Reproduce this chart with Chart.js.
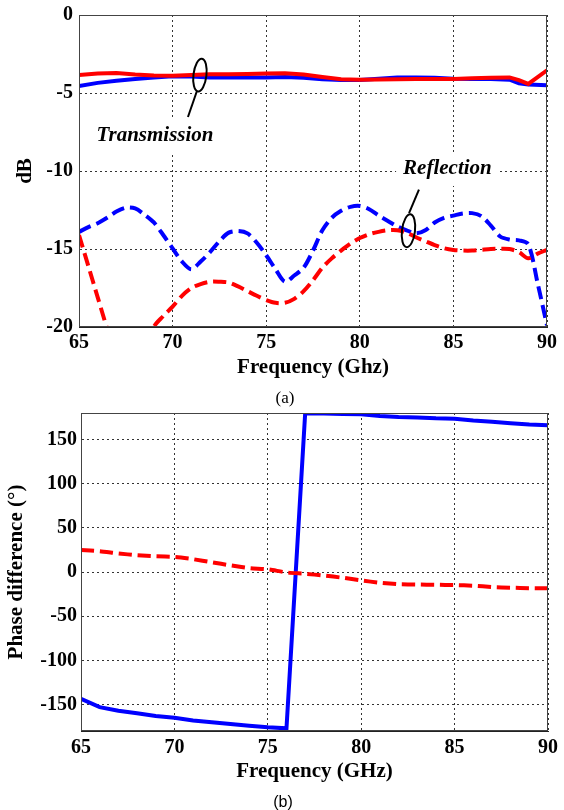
<!DOCTYPE html>
<html lang="en">
<head>
<meta charset="UTF-8">
<title>Transmission, reflection and phase difference</title>
<script src="https://cdn.jsdelivr.net/npm/chart.js"></script>
<style>
  body { margin: 0; background: #fff; }
  .wrap { position: relative; width: 564px; height: 810px; }
  #magChart { position: absolute; left: 0; top: 0; }
  #phaseChart { position: absolute; left: 0; top: 410px; }
</style>
</head>
<body>
<div class="wrap">
  <canvas id="magChart" width="564" height="410"></canvas>
  <canvas id="phaseChart" width="564" height="400"></canvas>
</div>
<script>
// ---- (a) magnitude, dB ----
const transFreq = [65,66,67,68,69,70,71,72,73,74,75,76,77,78,79,80,81,82,83,84,85,86,87,88,88.5,89,90];
const transRed  = [-3.85,-3.75,-3.72,-3.82,-3.88,-3.9,-3.85,-3.8,-3.8,-3.78,-3.75,-3.74,-3.82,-3.98,-4.12,-4.15,-4.14,-4.12,-4.1,-4.1,-4.1,-4.06,-4.02,-4.0,-4.18,-4.42,-3.55];
const transBlue = [-4.55,-4.35,-4.22,-4.1,-4.0,-3.92,-3.95,-4.0,-4.0,-4.0,-4.0,-3.98,-4.02,-4.12,-4.17,-4.17,-4.08,-4.0,-4.0,-4.02,-4.08,-4.1,-4.1,-4.15,-4.38,-4.45,-4.5];

const reflFreq = [65,65.5,66,66.5,67,67.5,68,68.5,69,69.5,70,70.5,71,71.5,72,72.5,73,73.5,74,74.5,75,75.5,76,76.5,77,77.5,
                  78,78.5,79,79.5,80,80.5,81,81.5,82,82.5,83,83.5,84,84.5,85,85.5,86,86.5,87,87.5,88,88.5,89,89.5,90];
const reflBlue = [-13.9,-13.6,-13.35,-13.0,-12.6,-12.35,-12.4,-12.8,-13.3,-14.1,-14.96,-15.8,-16.3,-15.8,-15.2,-14.5,-13.95,-13.85,-14.0,-14.6,-15.4,-16.3,-17.1,-16.7,-16.2,-15.1,
                  -13.8,-13.0,-12.55,-12.3,-12.24,-12.45,-12.85,-13.2,-13.55,-13.8,-14.0,-13.8,-13.3,-13.0,-12.86,-12.72,-12.7,-12.9,-13.5,-14.2,-14.4,-14.45,-14.7,-17.2,-19.9];
const reflRed  = [-14.1,-16.1,-18.1,-20.1,-22,-23,-23,-22,-20.0,-19.3,-18.7,-18.0,-17.5,-17.25,-17.1,-17.1,-17.15,-17.4,-17.7,-18.0,-18.27,-18.45,-18.45,-18.2,-17.7,-17.0,
                  -16.2,-15.6,-15.1,-14.65,-14.3,-14.05,-13.9,-13.8,-13.8,-13.95,-14.25,-14.5,-14.75,-14.95,-15.06,-15.1,-15.1,-15.05,-15.0,-14.98,-15.0,-15.2,-15.6,-15.3,-15.05];

const freqTicks = [65,70,75,80,85,90];
const dbTicks = [-20,-15,-10,-5,0];

// ---- (b) phase difference, degrees ----
const phaseFreqBlue = [65,66,67,68,69,70,71,72,73,74,75,76,77,78,79,80,81,82,83,84,85,86,87,88,89,90];
const phaseBlue     = [-143.5,-153,-157,-160,-163,-165,-168,-170,-172,-174,-175.8,-177,179.5,179.3,179,178.5,176.5,175.5,175,174,173.5,171.5,170,168.5,167,166];
const phaseFreqRed  = [65,66,67,68,69,70,71,72,73,74,75,76,77,78,79,80,81,82,83,84,85,86,87,88,89,90];
const phaseRed      = [25,23.5,21,19,17.8,17,14.5,11,7.5,4.5,3,-0.5,-2,-4,-6.5,-9.5,-12.2,-13.8,-14.2,-14.5,-14.8,-15.5,-17,-17.8,-18.3,-18.5];
const phaseTicks = [-150,-100,-50,0,50,100,150];

// callouts on (a), placed in data units
const callouts = [
    { text: 'Transmission', at: [69.06, -7.7], ring: [71.46, -3.85], lead: [[71.3, -4.87], [70.82, -6.54]] },
    { text: 'Reflection',   at: [84.68, -9.87], ring: [82.6, -13.83], lead: [[82.63, -12.7], [83.16, -11.2]] }
];

const serif = '"Liberation Serif", "Times New Roman", serif';
const tickFont = { family: serif, size: 20, weight: 'bold' };
const titleFont = { family: serif, size: 21, weight: 'bold' };

function pts(xs, ys) {
    return xs.map((v, i) => ({ x: v, y: ys[i] }));
}

function useTicks(list) {
    return scale => { scale.ticks = list.map(v => ({ value: v })); };
}

// box around the plot area
const framePlugin = {
    id: 'frame',
    afterDatasetsDraw(chart) {
        const { ctx, chartArea: a } = chart;
        ctx.save();
        ctx.strokeStyle = '#444';
        ctx.lineWidth = 1;
        ctx.strokeRect(a.left + 0.5, a.top + 0.5, a.right - a.left - 1, a.bottom - a.top - 1);
        ctx.restore();
    }
};

const calloutPlugin = {
    id: 'callouts',
    afterDatasetsDraw(chart) {
        const { ctx, scales: { x, y } } = chart;
        ctx.save();
        ctx.font = 'italic bold 21px ' + serif;
        ctx.textAlign = 'center';
        ctx.textBaseline = 'middle';
        callouts.forEach(c => {
            const tx = x.getPixelForValue(c.at[0]);
            const ty = y.getPixelForValue(c.at[1]);
            const w = ctx.measureText(c.text).width + 14;
            ctx.fillStyle = '#fff';
            ctx.fillRect(tx - w / 2, ty - 17, w, 34);
            ctx.fillStyle = '#000';
            ctx.fillText(c.text, tx, ty);

            ctx.strokeStyle = '#000';
            ctx.lineWidth = 2;
            ctx.beginPath();
            ctx.ellipse(x.getPixelForValue(c.ring[0]), y.getPixelForValue(c.ring[1]), 6.5, 16.5, 0.12, 0, Math.PI * 2);
            ctx.stroke();
            ctx.beginPath();
            ctx.moveTo(x.getPixelForValue(c.lead[0][0]), y.getPixelForValue(c.lead[0][1]));
            ctx.lineTo(x.getPixelForValue(c.lead[1][0]), y.getPixelForValue(c.lead[1][1]));
            ctx.stroke();
        });
        ctx.restore();
    }
};

// "(a)" / "(b)" under each panel
const panelLabelPlugin = {
    id: 'panelLabel',
    afterDraw(chart, args, opts) {
        const ctx = chart.ctx;
        ctx.save();
        ctx.font = opts.font;
        ctx.fillStyle = '#000';
        ctx.textAlign = 'center';
        ctx.textBaseline = 'middle';
        ctx.fillText(opts.text, opts.x, opts.y);
        ctx.restore();
    }
};

function freqAxis(title, axisHeight, titlePad, tickPad) {
    return {
        type: 'linear',
        min: 65,
        max: 90,
        afterBuildTicks: useTicks(freqTicks),
        afterFit: s => { s.height = axisHeight; s.paddingLeft = 0; s.paddingRight = 0; },
        ticks: { font: tickFont, color: '#000', padding: tickPad, maxRotation: 0, autoSkip: false },
        grid: { color: '#333', lineWidth: 1, drawTicks: false },
        border: { display: true, color: '#222', dash: [2, 3] },
        title: { display: true, text: title, font: titleFont, color: '#000', padding: { top: 0, bottom: titlePad } }
    };
}

function valueAxis(min, max, ticks, title, axisWidth, titlePad, tickPad) {
    return {
        min: min,
        max: max,
        afterBuildTicks: useTicks(ticks),
        afterFit: s => { s.width = axisWidth; s.paddingTop = 0; s.paddingBottom = 0; },
        ticks: { font: tickFont, color: '#000', padding: tickPad },
        grid: { color: '#333', lineWidth: 1, drawTicks: false },
        border: { display: true, color: '#222', dash: [2, 3] },
        title: { display: true, text: title, font: titleFont, color: '#000', padding: { top: titlePad, bottom: 0 } }
    };
}

new Chart(document.getElementById('magChart').getContext('2d'), {
    type: 'line',
    data: {
        datasets: [
            { data: pts(transFreq, transRed), borderColor: '#ff0000', borderWidth: 4, tension: 0 },
            { data: pts(transFreq, transBlue), borderColor: '#0000ff', borderWidth: 4, tension: 0 },
            { data: pts(reflFreq, reflRed), borderColor: '#ff0000', borderWidth: 4, borderDash: [13, 6], tension: 0.3 },
            { data: pts(reflFreq, reflBlue), borderColor: '#0000ff', borderWidth: 4, borderDash: [13, 6], tension: 0.3 }
        ]
    },
    options: {
        responsive: false,
        animation: false,
        elements: { point: { radius: 0 } },
        layout: { padding: { top: 15, right: 17, left: 0, bottom: 0 } },
        plugins: {
            legend: { display: false },
            tooltip: { enabled: false },
            panelLabel: { text: '(a)', x: 285, y: 399, font: '17px ' + serif }
        },
        scales: {
            x: freqAxis('Frequency (Ghz)', 83, 30, 4),
            y: valueAxis(-20, 0, dbTicks, 'dB', 79, 13, 6)
        }
    },
    plugins: [framePlugin, calloutPlugin, panelLabelPlugin]
});

new Chart(document.getElementById('phaseChart').getContext('2d'), {
    type: 'line',
    data: {
        datasets: [
            { data: pts(phaseFreqRed, phaseRed), borderColor: '#ff0000', borderWidth: 4, borderDash: [13, 6], tension: 0.2 },
            { data: pts(phaseFreqBlue, phaseBlue), borderColor: '#0000ff', borderWidth: 4, tension: 0 }
        ]
    },
    options: {
        responsive: false,
        animation: false,
        elements: { point: { radius: 0 } },
        layout: { padding: { top: 3, right: 16, left: 0, bottom: 0 } },
        plugins: {
            legend: { display: false },
            tooltip: { enabled: false },
            panelLabel: { text: '(b)', x: 283, y: 393, font: '16px "Liberation Sans", Arial, sans-serif' }
        },
        scales: {
            x: freqAxis('Frequency (GHz)', 79, 26, 5),
            y: valueAxis(-180, 180, phaseTicks, 'Phase difference (°)', 81, 4, 4)
        }
    },
    plugins: [framePlugin, panelLabelPlugin]
});
</script>
</body>
</html>
